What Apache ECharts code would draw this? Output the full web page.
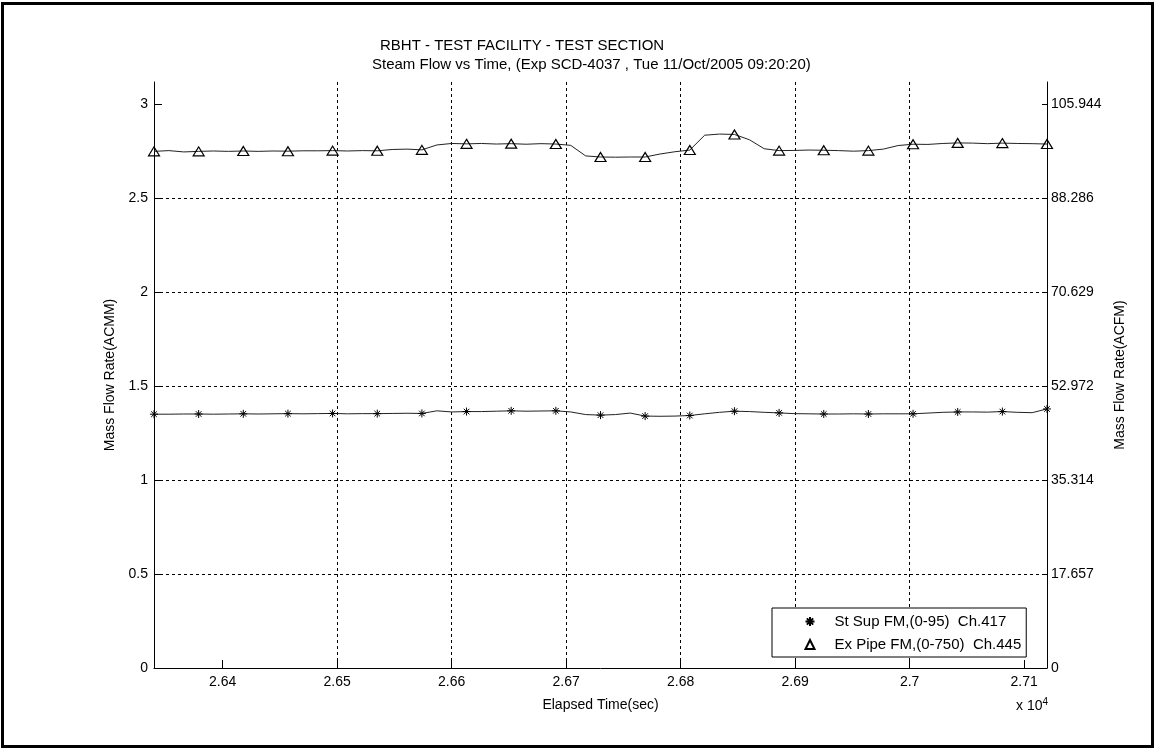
<!DOCTYPE html>
<html>
<head>
<meta charset="utf-8">
<script src="https://cdn.jsdelivr.net/npm/echarts@6/dist/echarts.min.js"></script>
<style>
  html, body { margin: 0; padding: 0; background: #fff; }
  #chart { width: 1156px; height: 750px; }
</style>
</head>
<body>
<div id="chart"></div>
<script>
// ---- data ----
const time = [
  26340,26353,26366,26379,26392,26405,26418,26431,26444,26457,
  26470,26483,26496,26509,26522,26535,26548,26561,26574,26587,
  26600,26613,26626,26639,26652,26665,26678,26691,26704,26717,
  26730,26743,26756,26769,26782,26795,26808,26821,26834,26847,
  26860,26873,26886,26899,26912,26925,26938,26951,26964,26977,
  26990,27003,27016,27029,27042,27055,27068,27081,27094,27107,
  27120
];
const exPipe = [
  2.748,2.752,2.745,2.748,2.750,2.748,2.750,2.748,2.750,2.749,
  2.751,2.751,2.752,2.750,2.752,2.751,2.758,2.760,2.756,2.782,
  2.790,2.788,2.790,2.787,2.789,2.786,2.789,2.787,2.780,2.724,
  2.718,2.717,2.718,2.718,2.734,2.746,2.755,2.834,2.840,2.838,
  2.810,2.762,2.752,2.753,2.755,2.754,2.752,2.749,2.752,2.760,
  2.779,2.786,2.785,2.790,2.793,2.792,2.789,2.792,2.790,2.789,
  2.787
];
const stSup = [
  1.350,1.350,1.351,1.351,1.350,1.351,1.352,1.351,1.352,1.353,
  1.352,1.353,1.354,1.352,1.353,1.353,1.354,1.355,1.354,1.368,
  1.362,1.364,1.364,1.366,1.368,1.366,1.367,1.368,1.362,1.348,
  1.345,1.348,1.356,1.340,1.339,1.340,1.343,1.352,1.360,1.366,
  1.364,1.360,1.357,1.353,1.352,1.351,1.351,1.352,1.351,1.352,
  1.352,1.352,1.356,1.360,1.362,1.362,1.361,1.364,1.360,1.358,
  1.378
];
const seriesNames = ['St Sup FM,(0-95)  Ch.417', 'Ex Pipe FM,(0-750)  Ch.445'];
const xTicks = [26400, 26500, 26600, 26700, 26800, 26900, 27000, 27100];
const yTicks = [0, 0.5, 1, 1.5, 2, 2.5, 3];
const rightTickLabels = ['0', '17.657', '35.314', '52.972', '70.629', '88.286', '105.944'];
const titleLines = ['RBHT - TEST FACILITY - TEST SECTION',
  'Steam Flow vs Time, (Exp SCD-4037 , Tue 11/Oct/2005 09:20:20)'];

// ---- chart ----
const FONT = 'Liberation Sans, Arial, Helvetica, sans-serif';
const X_MIN = 26340, X_MAX = 27120, Y_MIN = 0, Y_MAX = 3.117;
const MARK_EVERY = 3;
const pair = (arr) => arr.map((v, i) => [time[i], v]);
const marks = (arr) => pair(arr).filter((_, i) => i % MARK_EVERY === 0);
const STAR = 'path://M5,0L5,10M0,5L10,5M1.5,1.5L8.5,8.5M1.5,8.5L8.5,1.5';

const chart = echarts.init(document.getElementById('chart'), null, { renderer: 'canvas' });
const gridDash = { color: '#000', width: 1, type: [3, 3] };
chart.setOption({
  animation: false,
  backgroundColor: '#fff',
  textStyle: { fontFamily: FONT, color: '#000' },
  grid: { left: 154, right: 109, top: 82, bottom: 82, containLabel: false },
  graphic: [
    { type: 'rect', shape: { x: 2.5, y: 3.5, width: 1150, height: 743 },
      style: { fill: 'none', stroke: '#000', lineWidth: 3 }, silent: true },
    { type: 'text', left: 380, top: 38,
      style: { text: titleLines[0], font: '15px ' + FONT, fill: '#000' } },
    { type: 'text', left: 372, top: 57,
      style: { text: titleLines[1], font: '15px ' + FONT, fill: '#000' } },
    { type: 'text', left: 1016, top: 697,
      style: { text: 'x 10{s|4}', font: '14px ' + FONT, fill: '#000',
        rich: { s: { fontSize: 10, verticalAlign: 'top', padding: [0, 0, 8, 0], fontFamily: FONT } } } }
  ],
  legend: {
    orient: 'vertical', left: 772, top: 608,
    data: seriesNames,
    backgroundColor: '#fff', borderColor: '#000', borderWidth: 1,
    padding: [6, 5, 5, 31], itemGap: 8, itemWidth: 9, itemHeight: 9,
    textStyle: { fontFamily: FONT, fontSize: 15, color: '#000', padding: [0, 0, 0, 15] },
    selectedMode: false
  },
  xAxis: {
    type: 'value', min: X_MIN, max: X_MAX, splitNumber: 8,
    name: 'Elapsed Time(sec)', nameLocation: 'middle', nameGap: 30,
    nameTextStyle: { fontFamily: FONT, fontSize: 14, color: '#000' },
    axisLine: { show: true, lineStyle: { color: '#000', width: 1 } },
    axisTick: { show: true, inside: true, length: 8, customValues: xTicks, lineStyle: { color: '#000' } },
    axisLabel: { customValues: xTicks, margin: 7, fontFamily: FONT, fontSize: 14, color: '#000',
      formatter: (v) => String(parseFloat((v / 1e4).toFixed(4))) },
    splitLine: { show: true, showMinLine: false, showMaxLine: false, lineStyle: gridDash }
  },
  yAxis: [
    {
      type: 'value', min: Y_MIN, max: Y_MAX, splitNumber: 6, position: 'left',
      name: 'Mass Flow Rate(ACMM)', nameLocation: 'middle', nameGap: 33, nameRotate: 90,
      nameTextStyle: { fontFamily: FONT, fontSize: 14, color: '#000' },
      axisLine: { show: true, lineStyle: { color: '#000', width: 1 } },
      axisTick: { show: true, inside: true, length: 8, customValues: yTicks, lineStyle: { color: '#000' } },
      axisLabel: { customValues: yTicks, margin: 6, fontFamily: FONT, fontSize: 14, color: '#000',
        formatter: (v) => String(v) },
      splitLine: { show: true, showMinLine: false, showMaxLine: false, lineStyle: gridDash }
    },
    {
      type: 'value', min: Y_MIN, max: Y_MAX, splitNumber: 6, position: 'right',
      name: 'Mass Flow Rate(ACFM)', nameLocation: 'middle', nameGap: 66, nameRotate: 90,
      nameTextStyle: { fontFamily: FONT, fontSize: 14, color: '#000' },
      axisLine: { show: true, lineStyle: { color: '#000', width: 1 } },
      axisTick: { show: true, inside: true, length: 5, customValues: yTicks, lineStyle: { color: '#000' } },
      axisLabel: { customValues: yTicks, margin: 4, fontFamily: FONT, fontSize: 14, color: '#000',
        formatter: (v) => rightTickLabels[Math.round(v / 0.5)] },
      splitLine: { show: false }
    }
  ],
  series: [
    { type: 'line', name: 'stSupLine', data: pair(stSup), showSymbol: false, symbol: 'none',
      lineStyle: { color: '#222', width: 1 }, z: 3, silent: true },
    { type: 'line', name: 'exPipeLine', data: pair(exPipe), showSymbol: false, symbol: 'none',
      lineStyle: { color: '#222', width: 1 }, z: 3, silent: true },
    { type: 'scatter', name: seriesNames[0], data: marks(stSup), symbol: STAR, symbolSize: 8,
      itemStyle: { color: 'none', borderColor: '#000', borderWidth: 1, opacity: 1 }, z: 4 },
    { type: 'scatter', name: seriesNames[1], data: marks(exPipe), symbol: 'triangle', symbolSize: [11, 9],
      itemStyle: { color: 'none', borderColor: '#000', borderWidth: 1.2, opacity: 1 }, z: 4 }
  ]
});
</script>
</body>
</html>
